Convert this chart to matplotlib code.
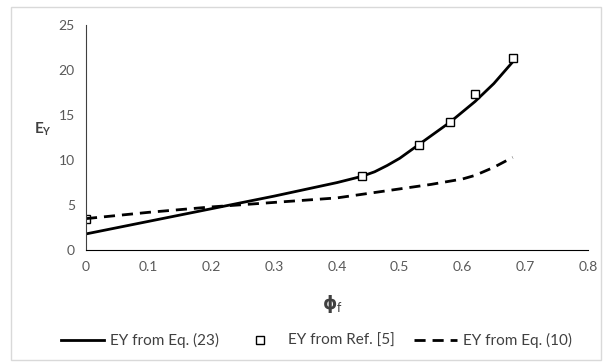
"""E_Y vs fibre volume fraction."""

import matplotlib.pyplot as plt
from matplotlib.patches import Rectangle

plt.rcParams["font.family"] = ["Lato", "DejaVu Sans"]

# EY from Eq. (23) (solid, smoothed)
phi_eq23 = [0.0, 0.1, 0.2, 0.3, 0.4, 0.44, 0.46, 0.48, 0.5, 0.53, 0.58, 0.62, 0.65, 0.68]
ey_eq23 = [1.8, 3.2, 4.6, 6.0, 7.5, 8.2, 8.7, 9.4, 10.2, 11.7, 14.2, 16.5, 18.5, 20.9]

# EY from Ref. [5] (markers)
phi_ref5 = [0.0, 0.44, 0.53, 0.58, 0.62, 0.68]
ey_ref5 = [3.5, 8.2, 11.7, 14.2, 17.3, 21.3]

# EY from Eq. (10) (dashed)
phi_eq10 = [0.0, 0.1, 0.2, 0.3, 0.4, 0.5, 0.55, 0.6, 0.62, 0.65, 0.68]
ey_eq10 = [3.5, 4.2, 4.8, 5.3, 5.8, 6.8, 7.3, 7.9, 8.3, 9.2, 10.3]

xticks = [0, 0.1, 0.2, 0.3, 0.4, 0.5, 0.6, 0.7, 0.8]
yticks = [0, 5, 10, 15, 20, 25]

fig = plt.figure(figsize=(6.03, 3.62), dpi=100)
fig.patches.append(Rectangle((11 / 603, 2 / 362), 590 / 603, 353 / 362,
                             transform=fig.transFigure, fill=False,
                             edgecolor="#d9d9d9", linewidth=1))
ax = fig.add_axes([0.1426, 0.309, 0.8325, 0.622])

ax.plot(phi_eq23, ey_eq23, color="black", linewidth=2, label="EY from Eq. (23)")
ax.plot(phi_ref5, ey_ref5, linestyle="none", marker="s", markersize=5.5,
        markerfacecolor="white", markeredgecolor="black", markeredgewidth=1,
        label="EY from Ref. [5]")
ax.plot(phi_eq10, ey_eq10, color="black", linewidth=2, linestyle=(0, (4, 2.5)),
        label="EY from Eq. (10)")

ax.set_xlim(0, 0.8)
ax.set_ylim(0, 25)
ax.set_xticks(xticks)
ax.set_xticklabels([f"{t:g}" for t in xticks])
ax.set_yticks(yticks)
ax.tick_params(length=0, labelsize=10, labelcolor="#595959", pad=8)
for s in ["top", "right"]:
    ax.spines[s].set_visible(False)
ax.spines["left"].set_color("#404040")
ax.spines["bottom"].set_color("black")

ax.set_ylabel(r"E$_\mathregular{Y}$", rotation=0, fontsize=11, fontweight="bold",
              color="#404040", labelpad=10)
ax.yaxis.set_label_coords(-0.085, 0.5)
ax.set_xlabel(r"$\mathbf{\phi}_\mathregular{f}$", fontsize=13, color="#404040")
ax.xaxis.set_label_coords(0.49, -0.19)

fig.legend(loc="lower center", bbox_to_anchor=(0.525, 0.0), ncol=3, frameon=False,
           fontsize=11, handlelength=2.8, handletextpad=0.4, columnspacing=1.3,
           labelcolor="#404040")

fig.savefig("out.png", dpi=100)
